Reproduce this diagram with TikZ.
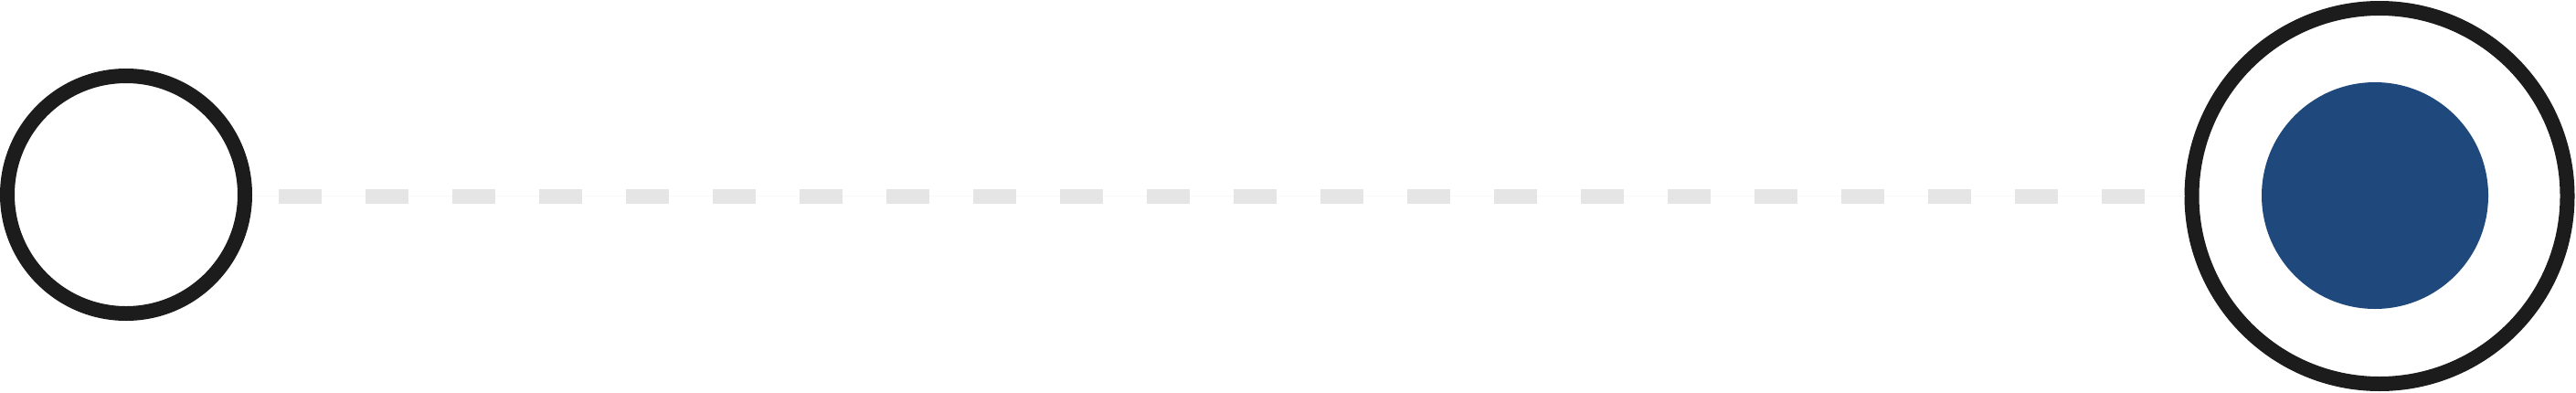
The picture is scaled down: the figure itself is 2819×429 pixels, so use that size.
\documentclass[tikz,border=0pt]{standalone}
\definecolor{ringc}{RGB}{28,28,28}
\definecolor{dashc}{RGB}{229,229,229}
\definecolor{faintc}{RGB}{248,248,248}
\definecolor{bluec}{RGB}{31,73,124}
\begin{document}
\begin{tikzpicture}[x=1pt,y=-1pt,
  ring/.style={circle,draw=ringc,line width=16pt,inner sep=0pt,fill=white},
  dot/.style={circle,fill=bluec,inner sep=0pt},
  dashline/.style={draw=dashc,line width=16pt,dash pattern=on 47pt off 48pt},
  faintline/.style={draw=faintc,line width=1pt}]
\useasboundingbox (0,0) rectangle (2819,429);
\node[ring,minimum size=260pt] (left) at (138,213) {};
\node[ring,minimum size=411pt] (big) at (2604,214.5) {};
\node[dot,minimum size=248pt] (inner) at (2599,214) {};
\draw[faintline] (left.east |- big.center) -- (big.west);
\draw[dashline,shorten <=29pt,shorten >=43.5pt] (left.east |- big.center) -- (big.west);
\end{tikzpicture}
\end{document}
